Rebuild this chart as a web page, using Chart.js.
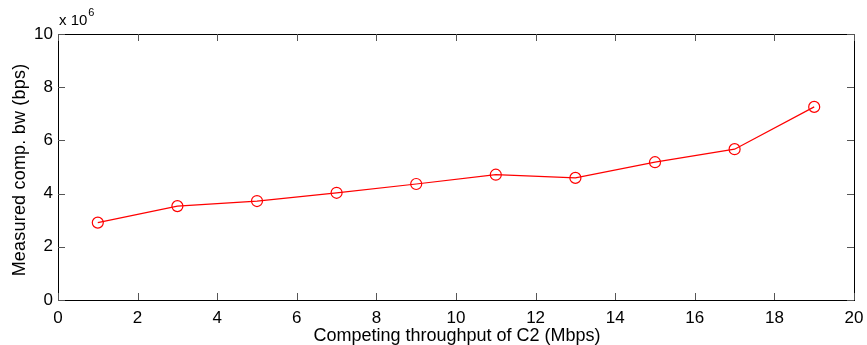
<!DOCTYPE html>
<html>
<head>
<meta charset="utf-8">
<script src="https://cdn.jsdelivr.net/npm/chart.js@4"></script>
<style>
  html, body { margin: 0; padding: 0; background: #fff; }
  #wrap { width: 867px; height: 345px; }
</style>
</head>
<body>
<div id="wrap"><canvas id="bw" width="867" height="345"></canvas></div>
<script>
// competing throughput of C2 (Mbps)
const throughputC2 = [1, 3, 5, 7, 9, 11, 13, 15, 17, 19];
// measured competing bandwidth (bps)
const measuredBw = [2.91e6, 3.53e6, 3.72e6, 4.03e6, 4.36e6, 4.71e6, 4.59e6, 5.18e6, 5.67e6, 7.26e6];
const xTicks = [0, 2, 4, 6, 8, 10, 12, 14, 16, 18, 20];
const yTicks = [0, 2e6, 4e6, 6e6, 8e6, 10e6];
const xTitle = 'Competing throughput of C2 (Mbps)';
const yTitle = 'Measured comp. bw (bps)';

const FONT = "'Liberation Sans', Arial, sans-serif";

// matlab-ish box, inward ticks, axis titles and the "x 10^6" exponent label
const matlabAxes = {
  id: 'matlabAxes',
  afterDraw(chart) {
    const ctx = chart.ctx;
    const a = chart.chartArea;
    const xs = chart.scales.x, ys = chart.scales.y;
    ctx.save();
    ctx.strokeStyle = '#000';
    ctx.lineWidth = 1;
    ctx.strokeRect(Math.round(a.left) + 0.5, Math.round(a.top) + 0.5,
                   Math.round(a.right - a.left), Math.round(a.bottom - a.top));
    ctx.strokeStyle = '#555';
    ctx.beginPath();
    xTicks.forEach(v => {
      const px = Math.round(xs.getPixelForValue(v)) + 0.5;
      ctx.moveTo(px, a.bottom); ctx.lineTo(px, a.bottom - 7);
      ctx.moveTo(px, a.top); ctx.lineTo(px, a.top + 7);
    });
    yTicks.forEach(v => {
      const py = Math.round(ys.getPixelForValue(v)) + 0.5;
      ctx.moveTo(a.left, py); ctx.lineTo(a.left + 7, py);
      ctx.moveTo(a.right, py); ctx.lineTo(a.right - 7, py);
    });
    ctx.stroke();

    ctx.fillStyle = '#000';
    ctx.textBaseline = 'alphabetic';

    // exponent
    ctx.textAlign = 'left';
    ctx.font = '15px ' + FONT;
    ctx.fillText('x 10', a.left + 1, 25);
    const w = ctx.measureText('x 10').width;
    ctx.font = '11px ' + FONT;
    ctx.fillText('6', a.left + 1 + w + 1, 16);

    // axis titles
    ctx.textAlign = 'center';
    ctx.font = '18px ' + FONT;
    ctx.fillText(xTitle, (a.left + a.right) / 2 + 1, 341);

    ctx.save();
    ctx.translate(25, 170);
    ctx.rotate(-Math.PI / 2);
    if ('letterSpacing' in ctx) ctx.letterSpacing = '0.2px';
    ctx.fillText(yTitle, 0, 0);
    ctx.restore();

    ctx.restore();
  }
};

new Chart(document.getElementById('bw').getContext('2d'), {
  type: 'line',
  data: {
    labels: throughputC2,
    datasets: [{
      data: throughputC2.map((x, i) => ({ x: x, y: measuredBw[i] })),
      borderColor: '#ff0000',
      borderWidth: 1.2,
      pointStyle: 'circle',
      pointRadius: 5.5,
      pointBorderWidth: 1.2,
      pointBorderColor: '#ff0000',
      pointBackgroundColor: 'rgba(0,0,0,0)',
      tension: 0,
      fill: false
    }]
  },
  options: {
    responsive: false,
    animation: false,
    layout: { padding: { top: 34, right: 13, left: 0, bottom: 0 } },
    plugins: { legend: { display: false }, tooltip: { enabled: false } },
    scales: {
      x: {
        type: 'linear',
        min: 0, max: 20,
        afterBuildTicks: s => { s.ticks = xTicks.map(v => ({ value: v })); },
        afterFit: s => { s.height = 45; s.paddingLeft = 0; s.paddingRight = 0; },
        grid: { display: false, drawTicks: false },
        border: { display: false },
        ticks: { color: '#000', font: { family: FONT, size: 17 }, padding: 8, maxRotation: 0 }
      },
      y: {
        type: 'linear',
        min: 0, max: 10e6,
        afterBuildTicks: s => { s.ticks = yTicks.map(v => ({ value: v })); },
        afterFit: s => { s.width = 58; s.paddingTop = 0; s.paddingBottom = 0; },
        grid: { display: false, drawTicks: false },
        border: { display: false },
        ticks: { color: '#000', font: { family: FONT, size: 17 }, padding: 5,
                 callback: v => String(v / 1e6) }
      }
    }
  },
  plugins: [matlabAxes]
});
</script>
</body>
</html>
